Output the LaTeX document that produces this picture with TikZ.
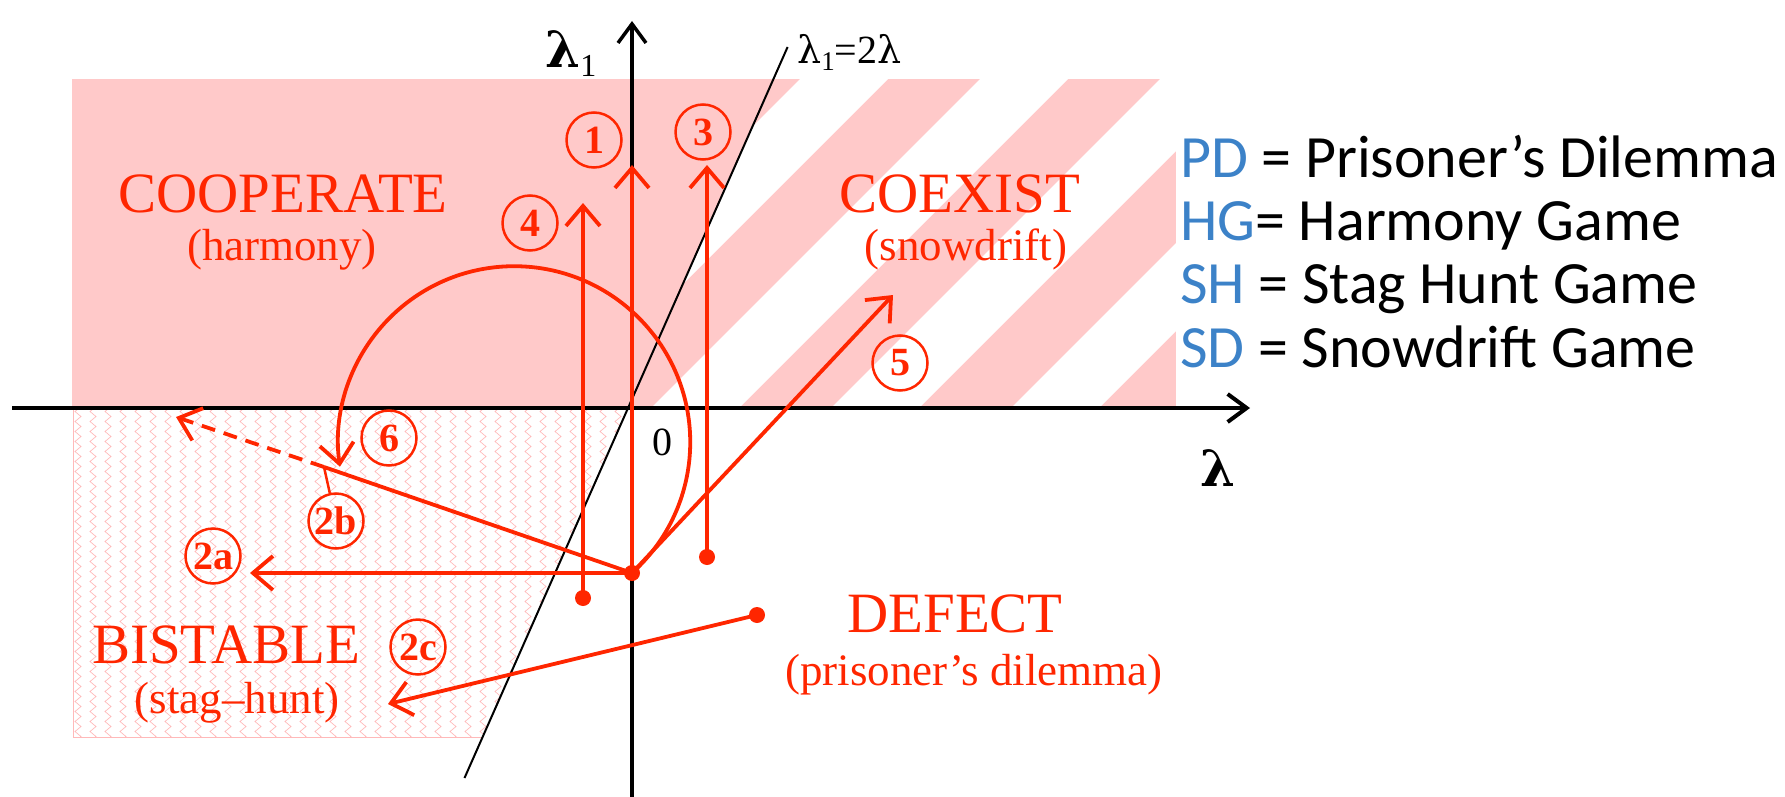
\documentclass[tikz,border=0pt]{standalone}
\usepackage{fontspec}
\setmainfont{Liberation Serif}
\newfontfamily\legendfont{Carlito}
\newfontfamily\grkfont{DejaVu Serif}
\usetikzlibrary{arrows.meta,decorations.pathmorphing}
\definecolor{rd}{RGB}{255,38,0}
\definecolor{pinkfill}{RGB}{255,201,201}
\definecolor{hatchc}{RGB}{255,185,185}
\definecolor{legblue}{RGB}{60,130,200}
\begin{document}
\begin{tikzpicture}[x=1pt,y=1pt,
  redline/.style={draw=rd, line width=3.8pt},
  redarrow/.style={redline, -{Straight Barb[length=20pt,width=34pt]}},
  dotnode/.style={circle, fill=rd, inner sep=0pt, minimum size=16pt},
  numcirc/.style={circle, draw=rd, line width=2.5pt, text=rd, minimum size=55pt, inner sep=0pt, font=\fontsize{40}{40}\selectfont\bfseries},
  bigtxt/.style={text=rd, font=\fontsize{57}{60}\selectfont, inner sep=0pt, anchor=base},
  subtxt/.style={text=rd, font=\fontsize{45}{48}\selectfont, inner sep=0pt, anchor=base},
  legtxt/.style={font=\legendfont\fontsize{60}{64}\selectfont, anchor=base west, inner sep=0pt},
  axisline/.style={draw=black, line width=4pt, -{Straight Barb[length=19pt,width=28pt]}},
]
\useasboundingbox (0,0) rectangle (1785,-797);

% upper region (cooperate / coexist)
\fill[pinkfill] (72,-79) rectangle (1176,-408);
\begin{scope}
  \clip (773.4,-79) -- (1176,-79) -- (1176,-408) -- (628,-408) -- cycle;
  \foreach \c in {879,1059,1239,1419,1599} {
    \fill[white] ({\c-79},-79) -- ({\c+9},-79) -- ({\c-320},-408) -- ({\c-408},-408) -- cycle;
  }
\end{scope}

% lower-left hatched region (bistable)
\begin{scope}
  \clip (73,-408) -- (628,-408) -- (482.6,-737) -- (73,-737) -- cycle;
  \foreach \xx in {78,93,...,640} {
    \draw[hatchc, line width=0.7pt, decorate, decoration={zigzag, segment length=10pt, amplitude=3pt}] (\xx,-404) -- (\xx,-745);
  }
\end{scope}
\draw[hatchc, line width=1pt] (628,-408) -- (73,-408) -- (73,-737) -- (482.6,-737);

% line lambda1 = 2 lambda
\coordinate (lb) at (464.5,-778);
\coordinate (lt) at (787.6,-47);
\draw[black, line width=2pt] (lb) -- (lt);

% axes
\coordinate (hs) at (12,-408);
\coordinate (he) at (1250,-408);
\coordinate (vs) at (632,-797);
\coordinate (ve) at (632,-21);
\draw[axisline] (hs) -- (he);
\draw[axisline, line width=3.5pt] (vs) -- (ve);

% dots
\node[dotnode] (O) at (632,-573) {};
\node[dotnode] (d4) at (583,-598) {};
\node[dotnode] (d3) at (707,-557) {};
\node[dotnode] (d2c) at (757,-615) {};

% arrow end points
\coordinate (t1) at (632,-165);
\coordinate (t3) at (707,-165);
\coordinate (t4) at (583,-203);
\coordinate (t5) at (893,-295);
\coordinate (t2a) at (250,-573);
\coordinate (m2b) at (324,-467);
\coordinate (t2b) at (176,-417);
\coordinate (t2c) at (388,-704);

% arrows
\draw[redarrow] (O.center) -- (t1);
\draw[redarrow] (d3.center) -- (t3);
\draw[redarrow] (d4.center) -- (t4);
\draw[redarrow] (O.center) -- (t5);
\draw[redarrow] (O.center) -- (t2a);
\draw[redline] (O.center) -- (m2b);
\draw[redarrow, dash pattern=on 14pt off 9pt] (m2b) -- (t2b);
\draw[redarrow] (d2c.center) -- (t2c);
\draw[redarrow] (O.center) arc[start angle=-48, end angle=188, radius=176];

% circled labels
\node[numcirc] (c1) at (594,-140) {1};
\node[numcirc] (c3) at (703,-132) {3};
\node[numcirc] (c4) at (530,-223) {4};
\node[numcirc] (c5) at (900,-363) {5};
\node[numcirc] (c6) at (389,-438) {6};
\node[numcirc] (c2a) at (213,-556) {2a};
\node[numcirc] (c2b) at (336,-521) {2b};
\node[numcirc] (c2c) at (418,-647) {2c};
\draw[rd, line width=2.5pt] (m2b) -- (c2b);

% region labels
\node[bigtxt] (coop) at (283,-212) {COOPERATE};
\node[subtxt] (harm) at (282,-260) {(harmony)};
\node[bigtxt] (coex) at (960,-212) {COEXIST};
\node[subtxt] (snow) at (966,-260) {(snowdrift)};
\node[bigtxt] (bist) at (226,-663) {BISTABLE};
\node[subtxt] (stag) at (237,-713) {(stag–hunt)};
\node[bigtxt] (defe) at (955,-632) {DEFECT};
\node[subtxt] (pris) at (974,-685) {(prisoner’s dilemma)};

% axis labels
\node[anchor=base west, inner sep=0pt] (lamone) at (545,-68) {{\grkfont\bfseries\fontsize{50}{50}\selectfont λ}\raisebox{-9pt}{\fontsize{32}{32}\selectfont 1}};
\node[inner sep=0pt] (lam) at (1218,-468) {\grkfont\bfseries\fontsize{50}{50}\selectfont λ};
\node[anchor=base west, inner sep=0pt] (lineq) at (797,-64) {{\grkfont\fontsize{38}{38}\selectfont λ}\raisebox{-7pt}{\fontsize{27}{27}\selectfont 1}{\fontsize{40}{40}\selectfont =2}{\grkfont\fontsize{38}{38}\selectfont λ}};
\node[inner sep=0pt] (zero) at (662,-442) {\fontsize{40}{40}\selectfont 0};

% legend
\node[legtxt] (pd) at (1180,-177) {\textcolor{legblue}{PD} = Prisoner’s Dilemma};
\node[legtxt] (hg) at (1180,-240) {\textcolor{legblue}{HG}= Harmony Game};
\node[legtxt] (sh) at (1180,-303) {\textcolor{legblue}{SH} = Stag Hunt Game};
\node[legtxt] (sd) at (1180,-367) {\textcolor{legblue}{SD} = Snowdrift Game};
\end{tikzpicture}
\end{document}
